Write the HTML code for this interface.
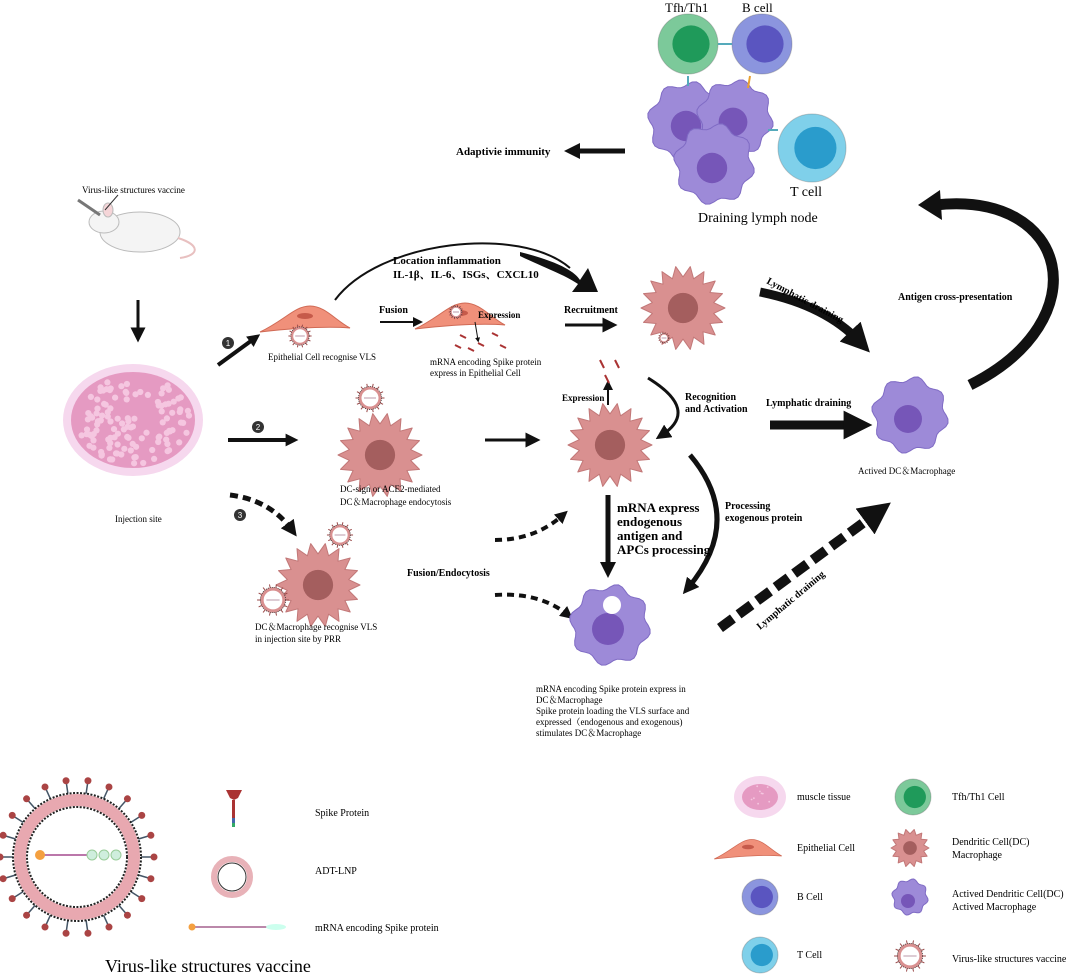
<!DOCTYPE html>
<html><head><meta charset="utf-8"><style>
html,body{margin:0;padding:0;background:#fff;}
svg{display:block;font-family:"Liberation Serif","Noto Serif CJK SC",serif;}
.b{font-weight:bold;}
</style></head><body>
<svg id="s" width="1080" height="975" viewBox="0 0 1080 975" xmlns="http://www.w3.org/2000/svg">
<defs>
<marker id="ah" viewBox="0 0 10 10" refX="5" refY="5" markerWidth="3.2" markerHeight="3.2" orient="auto"><path d="M0,0L10,5L0,10z" fill="#111"/></marker>
<marker id="ah2" viewBox="0 0 10 10" refX="5" refY="5" markerWidth="5" markerHeight="5" orient="auto"><path d="M0,0L10,5L0,10z" fill="#111"/></marker>
</defs>
<g id="g"></g>
<g font-size="13">
<text x="665" y="12" >Tfh/Th1</text><text x="742" y="12">B cell</text>
<text x="790" y="196" font-size="14">T cell</text>
<text x="698" y="222" font-size="14">Draining lymph node</text>
<text x="456" y="155" font-size="11" class="b">Adaptivie immunity</text>
<text x="82" y="193" font-size="9">Virus-like structures vaccine</text>
<text x="115" y="522" font-size="9">Injection site</text>
<text x="268" y="360" font-size="9">Epithelial Cell recognise VLS</text>
<text x="379" y="313" font-size="10" class="b">Fusion</text>
<text x="478" y="318" font-size="9" class="b">Expression</text>
<text x="430" y="365" font-size="9">mRNA encoding Spike protein</text>
<text x="430" y="376" font-size="9">express in Epithelial Cell</text>
<text x="393" y="264" font-size="11" class="b">Location inflammation</text>
<text x="393" y="278" font-size="11" class="b">IL-1β、IL-6、ISGs、CXCL10</text>
<text x="564" y="313" font-size="10" class="b">Recruitment</text>
<text x="766" y="283" font-size="10" class="b" transform="rotate(28 766 283)">Lymphatic draining</text>
<text x="898" y="300" font-size="10" class="b">Antigen cross-presentation</text>
<text x="562" y="401" font-size="9" class="b">Expression</text>
<text x="685" y="400" font-size="10" class="b">Recognition</text>
<text x="685" y="412" font-size="10" class="b">and Activation</text>
<text x="766" y="406" font-size="10" class="b">Lymphatic draining</text>
<text x="858" y="474" font-size="9">Actived DC＆Macrophage</text>
<text x="340" y="492" font-size="9">DC-sign or ACE2-mediated</text>
<text x="340" y="505" font-size="9">DC＆Macrophage endocytosis</text>
<text x="255" y="630" font-size="9">DC＆Macrophage recognise VLS</text>
<text x="255" y="642" font-size="9">in injection site by PRR</text>
<text x="407" y="576" font-size="10" class="b">Fusion/Endocytosis</text>
<text x="617" y="512" font-size="13" class="b">mRNA express</text>
<text x="617" y="526" font-size="13" class="b">endogenous</text>
<text x="617" y="540" font-size="13" class="b">antigen and</text>
<text x="617" y="554" font-size="13" class="b">APCs processing</text>
<text x="725" y="509" font-size="10" class="b">Processing</text>
<text x="725" y="521" font-size="10" class="b">exogenous protein</text>
<text x="760" y="630" font-size="10" class="b" transform="rotate(-40 760 630)">Lymphatic draining</text>
<text x="536" y="692" font-size="9">mRNA encoding Spike protein express in</text>
<text x="536" y="703" font-size="9">DC＆Macrophage</text>
<text x="536" y="714" font-size="9">Spike protein  loading the VLS surface and</text>
<text x="536" y="725" font-size="9">expressed（endogenous and exogenous)</text>
<text x="536" y="736" font-size="9">stimulates DC＆Macrophage</text>
<text x="315" y="816" font-size="10">Spike Protein</text>
<text x="315" y="874" font-size="10">ADT-LNP</text>
<text x="315" y="931" font-size="10">mRNA encoding Spike protein</text>
<text x="105" y="972" font-size="18">Virus-like structures vaccine</text>
<text x="797" y="800" font-size="10">muscle tissue</text>
<text x="797" y="851" font-size="10">Epithelial Cell</text>
<text x="797" y="900" font-size="10">B Cell</text>
<text x="797" y="958" font-size="10">T Cell</text>
<text x="952" y="800" font-size="10">Tfh/Th1 Cell</text>
<text x="952" y="845" font-size="10">Dendritic Cell(DC)</text>
<text x="952" y="858" font-size="10">Macrophage</text>
<text x="952" y="897" font-size="10">Actived Dendritic Cell(DC)</text>
<text x="952" y="910" font-size="10">Actived Macrophage</text>
<text x="952" y="962" font-size="10">Virus-like structures vaccine</text>
</g>
</svg>
<script>
var g=document.getElementById('g'),h='';
function star(x,y,r,n){var p=[];for(var i=0;i<2*n;i++){var a=i*Math.PI/n,rr=i%2?r*0.74:r;p.push((x+rr*Math.cos(a)).toFixed(1)+','+(y+rr*Math.sin(a)).toFixed(1));}
h+='<polygon points="'+p.join(' ')+'" fill="#d99090" stroke="#c27878" stroke-linejoin="round"/><circle cx="'+x+'" cy="'+y+'" r="'+(r*0.36)+'" fill="#a45e5e"/>';}
function blob(x,y,r,nr){var p=[];for(var i=0;i<60;i++){var a=i*Math.PI/30,rr=r*(1+0.08*Math.sin(a*8));p.push((x+rr*Math.cos(a)).toFixed(1)+','+(y+rr*Math.sin(a)).toFixed(1));}
h+='<polygon points="'+p.join(' ')+'" fill="#9d8ad8" stroke="#7f6bc4"/><circle cx="'+(x-2)+'" cy="'+(y+4)+'" r="'+(nr||r*0.4)+'" fill="#7656b8"/>';}
function cell(x,y,r,o,i){h+='<circle cx="'+x+'" cy="'+y+'" r="'+r+'" fill="'+o+'" stroke="#555" stroke-opacity=".3"/><circle cx="'+(x+r*0.1)+'" cy="'+y+'" r="'+(r*0.62)+'" fill="'+i+'"/>';}
function epi(x,y,s){h+='<path transform="translate('+x+','+y+') scale('+s+')" d="M-45,12 C-20,0 -10,-14 5,-14 C20,-14 30,0 45,8 C20,6 -10,8 -45,12z" fill="#f0907a" stroke="#d06a55"/><ellipse cx="'+x+'" cy="'+(y-4*s)+'" rx="'+(8*s)+'" ry="'+(3*s)+'" fill="#c65a4a"/>';}
function vls(x,y,r){h+='<circle cx="'+x+'" cy="'+y+'" r="'+r+'" fill="#fff" stroke="#d99090" stroke-width="'+(r*0.3)+'"/><circle cx="'+x+'" cy="'+y+'" r="'+(r*1.15)+'" fill="none" stroke="#333" stroke-dasharray="1 1" stroke-width="0.8"/><line x1="'+(x-r*0.6)+'" y1="'+y+'" x2="'+(x+r*0.6)+'" y2="'+y+'" stroke="#b9a"/>';
 for(var i=0;i<14;i++){var a=i*Math.PI/7;h+='<line x1="'+(x+r*1.15*Math.cos(a))+'" y1="'+(y+r*1.15*Math.sin(a))+'" x2="'+(x+r*1.45*Math.cos(a))+'" y2="'+(y+r*1.45*Math.sin(a))+'" stroke="#9a4a4a" stroke-width="1"/>';}}
function muscle(x,y,rx,ry){h+='<ellipse cx="'+x+'" cy="'+y+'" rx="'+(rx+8)+'" ry="'+(ry+8)+'" fill="#f6d8ee"/><ellipse cx="'+x+'" cy="'+y+'" rx="'+rx+'" ry="'+ry+'" fill="#e59ac2"/>';
 var c=Math.round(rx*ry/25);for(var i=0;i<c;i++){var a=Math.random()*6.28,d=Math.sqrt(Math.random());h+='<circle cx="'+(x+d*rx*0.92*Math.cos(a)).toFixed(1)+'" cy="'+(y+d*ry*0.92*Math.sin(a)).toFixed(1)+'" r="'+(rx/20)+'" fill="#f5c6e0"/>';}}
function arr(x1,y1,x2,y2,w){h+='<line x1="'+x1+'" y1="'+y1+'" x2="'+x2+'" y2="'+y2+'" stroke="#111" stroke-width="'+w+'" marker-end="url(#'+(w<=3?'ah2':'ah')+')"/>';}
function path(d,w,dash){h+='<path d="'+d+'" fill="none" stroke="#111" stroke-width="'+w+'" '+(dash?'stroke-dasharray="'+dash+'"':'')+' marker-end="url(#'+(w<=3?'ah2':'ah')+')"/>';}
cell(688,44,30,'#7cc99a','#1f9a5a');cell(762,44,30,'#8b95de','#5a55c0');
blob(688,122,38);blob(735,118,36);blob(714,164,38);
cell(812,148,34,'#7fd0ea','#2a9ccc');
h+='<line x1="688" y1="76" x2="688" y2="86" stroke="#5ab" stroke-width="2"/><line x1="718" y1="44" x2="732" y2="44" stroke="#5ab" stroke-width="2"/><line x1="750" y1="76" x2="748" y2="88" stroke="#e9a030" stroke-width="2"/><line x1="768" y1="130" x2="778" y2="130" stroke="#5ab" stroke-width="2"/>';
arr(625,151,572,151,5);
h+='<ellipse cx="140" cy="232" rx="40" ry="20" fill="#f4f4f4" stroke="#bbb"/><ellipse cx="104" cy="222" rx="15" ry="11" fill="#f4f4f4" stroke="#bbb"/><ellipse cx="108" cy="210" rx="5" ry="7" fill="#f5d5d8" stroke="#bbb"/><path d="M178,238 C200,245 200,255 180,258" fill="none" stroke="#e8c0c0" stroke-width="2"/><line x1="78" y1="200" x2="100" y2="215" stroke="#777" stroke-width="3"/><line x1="118" y1="195" x2="105" y2="210" stroke="#333"/>';
arr(138,300,138,335,3);
muscle(133,420,62,48);
[[228,343,'1'],[258,427,'2'],[240,515,'3']].forEach(function(c){h+='<circle cx="'+c[0]+'" cy="'+c[1]+'" r="6" fill="#333"/><text x="'+c[0]+'" y="'+(c[1]+3)+'" font-size="8" fill="#fff" text-anchor="middle" font-family="Liberation Sans">'+c[2]+'</text>';});
arr(218,365,255,338,4);arr(228,440,292,440,4);
path('M230,495 Q270,500 292,530',5,'8 5');
epi(305,320,1);vls(300,336,8);
arr(380,322,418,322,2);
epi(460,317,1);vls(456,312,5);
h+='<line x1="475" y1="322" x2="478" y2="340" stroke="#111" marker-end="url(#ah2)"/>';
[[460,335],[478,343],[492,333],[468,348],[500,345],[455,345]].forEach(function(p){h+='<line x1="'+p[0]+'" y1="'+p[1]+'" x2="'+(p[0]+6)+'" y2="'+(p[1]+3)+'" stroke="#a33" stroke-width="2"/>';});
h+='<path d="M335,300 C380,240 520,225 570,268" fill="none" stroke="#111" stroke-width="2"/><path d="M520,252 C560,262 575,272 580,280 L588,268 L598,292 L572,292 L578,284 C565,275 545,268 520,256z" fill="#111"/>';
arr(565,325,610,325,3);
star(683,308,42,18);vls(664,338,4);
path('M760,292 Q825,305 860,342',9);
star(610,445,42,18);arr(608,405,608,385,2);
[[600,360],[615,360],[605,375]].forEach(function(p){h+='<line x1="'+p[0]+'" y1="'+p[1]+'" x2="'+(p[0]+4)+'" y2="'+(p[1]+8)+'" stroke="#a33" stroke-width="2"/>';});
path('M648,378 Q700,410 662,435',3);
arr(770,425,858,425,9);
blob(910,415,36,14);
h+='<path d="M970,385 C1100,320 1070,190 935,205" fill="none" stroke="#111" stroke-width="11"/><polygon points="940,190 918,205 942,220" fill="#111"/>';
star(380,455,42,18);vls(370,398,10);
arr(485,440,533,440,3);
star(318,585,42,18);vls(273,600,11);vls(340,535,9);
path('M495,540 Q535,540 563,515',4,'7 5');
path('M495,595 Q540,592 568,615',4,'7 5');
arr(608,495,608,570,5);
path('M690,455 Q745,520 688,588',5);
blob(610,625,38,16);h+='<circle cx="612" cy="605" r="9" fill="#fff"/>';
path('M720,628 L878,512',10,'16 7');
var X=77,Y=857;
for(var i=0;i<22;i++){var a=i*Math.PI/11;h+='<line x1="'+(X+64*Math.cos(a))+'" y1="'+(Y+64*Math.sin(a))+'" x2="'+(X+74*Math.cos(a))+'" y2="'+(Y+74*Math.sin(a))+'" stroke="#456" stroke-width="1.5"/><circle cx="'+(X+77*Math.cos(a))+'" cy="'+(Y+77*Math.sin(a))+'" r="3.5" fill="#a44"/>';}
h+='<circle cx="77" cy="857" r="57" fill="#fff" stroke="#e8a8b0" stroke-width="12"/><circle cx="77" cy="857" r="64" fill="none" stroke="#222" stroke-width="2" stroke-dasharray="2 1.5"/><circle cx="77" cy="857" r="50" fill="none" stroke="#222" stroke-width="2" stroke-dasharray="2 1.5"/><line x1="40" y1="855" x2="92" y2="855" stroke="#b7a" stroke-width="2"/><circle cx="40" cy="855" r="5" fill="#f4a040"/>';
[92,104,116].forEach(function(x){h+='<circle cx="'+x+'" cy="855" r="5" fill="#cfeedd" stroke="#9c9"/>';});
h+='<path d="M226,790 L242,790 L238,798 L234,800 L230,798z" fill="#a33"/><rect x="232" y="800" width="3" height="18" fill="#a33"/><rect x="232" y="818" width="3" height="5" fill="#46a"/><rect x="232" y="823" width="3" height="4" fill="#3a6"/>';
h+='<circle cx="232" cy="877" r="19" fill="none" stroke="#333" stroke-width="1"/><circle cx="232" cy="877" r="18" fill="none" stroke="#e8b2b8" stroke-width="6"/><circle cx="232" cy="877" r="14" fill="none" stroke="#333"/>';
h+='<line x1="193" y1="927" x2="268" y2="927" stroke="#b8a" stroke-width="2"/><circle cx="192" cy="927" r="3.5" fill="#f4a040"/><ellipse cx="276" cy="927" rx="10" ry="3" fill="#cfe"/>';
muscle(760,797,18,13);epi(748,850,0.75);
cell(760,897,18,'#8b95de','#5a55c0');cell(760,955,18,'#7fd0ea','#2a9ccc');
cell(913,797,18,'#7cc99a','#1f9a5a');star(910,848,19,14);blob(910,897,17,7);vls(910,956,11);
g.innerHTML=h;
</script>
</body></html>
